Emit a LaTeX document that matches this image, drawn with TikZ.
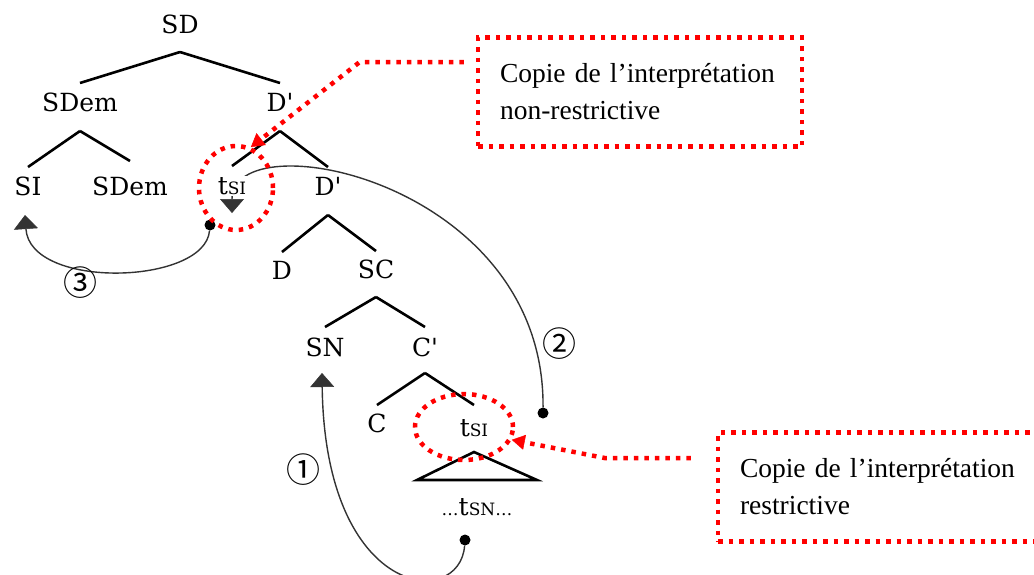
\documentclass[tikz,border=0pt]{standalone}
\usepackage{fontspec}
\newfontfamily\notefont{Liberation Serif}
\newfontfamily\treefont{DejaVu Serif}
\newfontfamily\stepfont{Noto Sans CJK JP}
\newcommand\tracesub[1]{{\fontsize{17}{17}\selectfont #1}}
\usepackage{tikz}
\usetikzlibrary{arrows.meta, shapes.geometric, calc, backgrounds}
\tikzset{
  catnode/.style={inner sep=1pt, font=\treefont\fontsize{25}{30}\selectfont},
  branch/.style={draw=black, line width=2.6pt},
  movecurve/.style={draw=black!80, line width=1.4pt, -{Triangle[length=14pt, width=24pt, line width=0.5pt]}},
  traceroot/.style={circle, fill=black, minimum size=11pt, inner sep=0pt},
  stepnum/.style={inner sep=0pt, font=\stepfont\fontsize{34}{34}\selectfont},
  redline/.style={draw=red, line width=4.5pt, dash pattern=on 4.5pt off 6pt},
  notebox/.style={
    redline, rectangle, inner xsep=22pt, inner ysep=0pt,
    minimum height=109pt, align=left,
    font=\notefont\fontsize{27.5}{37}\selectfont
  },
  copyring/.style={redline, ellipse, inner sep=0pt},
  copyarrow/.style={redline, -{Triangle[length=13pt, width=15pt, line width=0.5pt]}}
}

\begin{document}
\begin{tikzpicture}[x=1pt, y=-1pt]

  \useasboundingbox (0,0) rectangle (1034,574);

  % Tree nodes
  \node[catnode] (sd)    at (180,24)  {SD};
  \node[catnode] (sdem)  at (80,102)  {SDem};
  \node[catnode] (dbar)  at (280,102) {D\textquotesingle};
  \node[catnode] (si)    at (28,186)  {SI};
  \node[catnode] (sdemb) at (130,186) {SDem};
  \node[catnode, fill=white] (tsia) at (232,186) {t\tracesub{SI}};
  \node[catnode] (dbarb) at (328,186) {D\textquotesingle};
  \node[catnode] (d)     at (282,270) {D};
  \node[catnode] (sc)    at (376,269) {SC};
  \node[catnode] (sn)    at (325,347) {SN};
  \node[catnode] (cbar)  at (425,347) {C\textquotesingle};
  \node[catnode] (c)     at (377,423) {C};
  \node[catnode] (tsib)  at (474,428) {t\tracesub{SI}};
  \node[catnode] (tsn)   at (477,507) {\tracesub{\ldots}t\tracesub{SN\ldots}};
  \coordinate (tribl) at (417,480);
  \coordinate (tribr) at (537,480);

  % Branches
  \draw[branch] ([yshift=-28pt]sd.center) -- ([yshift=19pt]sdem.center);
  \draw[branch] ([yshift=-28pt]sd.center) -- ([yshift=19pt]dbar.center);
  \draw[branch] ([yshift=-29pt]sdem.center) -- ([yshift=19pt]si.center);
  \draw[branch] ([yshift=-29pt]sdem.center) -- ([yshift=25pt]sdemb.center);
  \draw[branch] ([yshift=-29pt]dbar.center) -- ([yshift=20pt]tsia.center);
  \draw[branch] ([yshift=-29pt]dbar.center) -- ([yshift=19pt]dbarb.center);
  \draw[branch] ([yshift=-29pt]dbarb.center) -- ([yshift=18pt]d.center);
  \draw[branch] ([yshift=-29pt]dbarb.center) -- ([yshift=18pt]sc.center);
  \draw[branch] ([yshift=-28pt]sc.center) -- ([yshift=20pt]sn.center);
  \draw[branch] ([yshift=-28pt]sc.center) -- ([yshift=20pt]cbar.center);
  \draw[branch] ([yshift=-26pt]cbar.center) -- ([yshift=18pt]c.center);
  \draw[branch] ([yshift=-26pt]cbar.center) -- ([yshift=23pt]tsib.center);
  \draw[branch, line join=miter] ([yshift=-24pt]tsib.center) -- (tribl) -- (tribr) -- cycle;

  % Movement
  \node[traceroot] (rootb) at (543,413) {};
  \node[traceroot] (rootc) at (210,225) {};
  \node[traceroot] (roota) at (465,540) {};
  \begin{scope}[on background layer]
    \draw[movecurve] (rootb) .. controls (545,180) and (232,120) .. ([yshift=-27pt]tsia.center);
    \draw[movecurve] (rootc) .. controls (205,285) and (30,290) .. ([xshift=-3pt, yshift=-29pt]si.center);
    \draw[movecurve] (roota) .. controls (460,610) and (325,600) .. ([xshift=-3pt, yshift=-26pt]sn.center);
  \end{scope}
  \node[stepnum] (stepa) at (303,470) {①};
  \node[stepnum] (stepb) at (559,344) {②};
  \node[stepnum] (stepc) at (80,283)  {③};

  % Copies
  \node[copyring, minimum width=74pt, minimum height=84pt] (ringa) at (236,188) {};
  \node[copyring, minimum width=98pt, minimum height=66pt] (ringb) at (464,427) {};
  \node[notebox, text width=280pt] (notea) at (640,92)
    {Copie de l’interprétation\\non-restrictive};
  \node[notebox, text width=304pt] (noteb) at (892,487)
    {Copie de l’interprétation\\restrictive};
  \draw[copyarrow] ([xshift=-12pt, yshift=30pt]notea.west) -- ++(-104,0) -- (ringa.70);
  \draw[copyarrow] ([xshift=-25pt, yshift=29pt]noteb.west) -- ++(-86,0) -- (ringb.-15);

\end{tikzpicture}
\end{document}
